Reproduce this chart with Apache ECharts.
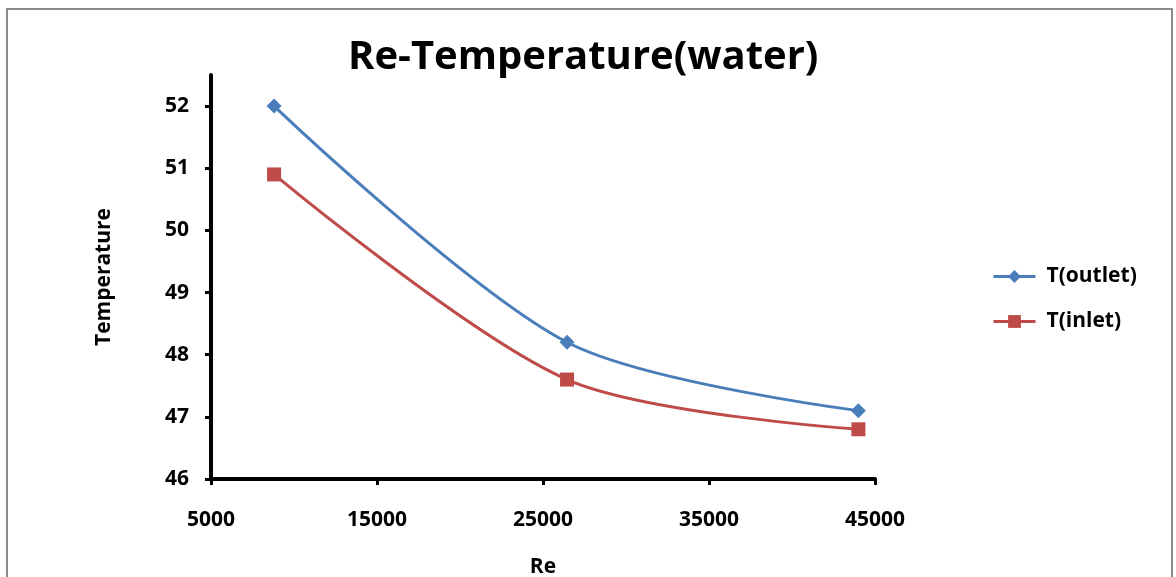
<!DOCTYPE html>
<html>
<head>
<meta charset="utf-8">
<script src="https://cdn.jsdelivr.net/npm/echarts@6/dist/echarts.min.js"></script>
<style>
  html, body { margin: 0; padding: 0; background: #fff; }
  #chart { width: 1176px; height: 577px; }
</style>
</head>
<body>
<div id="chart"></div>
<script>
// Reynolds number vs. water temperature
const reValues = [8800, 26450, 44000];
const tOutlet = [52.0, 48.2, 47.1];
const tInlet = [50.9, 47.6, 46.8];
const yTicks = [46, 47, 48, 49, 50, 51, 52];
const xTicks = [5000, 15000, 25000, 35000, 45000];
const seriesNames = ['T(outlet)', 'T(inlet)'];

const font = '"Open Sans", Lato, sans-serif';

const chart = echarts.init(document.getElementById('chart'));
chart.setOption({
  backgroundColor: '#fff',
  animation: false,
  title: {
    text: 'Re-Temperature(water)',
    left: 343,
    top: 33,
    textStyle: { fontFamily: font, fontSize: 40, fontWeight: 'bold', color: '#000' }
  },
  graphic: [{
    type: 'rect',
    shape: { x: 7, y: 9, width: 1165, height: 580 },
    style: { fill: 'none', stroke: '#8c8c8c', lineWidth: 2 },
    silent: true
  }],
  legend: {
    orient: 'vertical',
    left: 987,
    top: 261,
    itemWidth: 42,
    itemHeight: 16,
    itemGap: 24,
    lineStyle: { width: 3 },
    textStyle: { fontFamily: font, fontSize: 21, fontWeight: 'bold', color: '#000', padding: [0, 0, 0, 6] },
    data: seriesNames
  },
  grid: { left: 211, right: 301, top: 75, bottom: 98, containLabel: false, outerBoundsMode: 'none' },
  xAxis: {
    type: 'value',
    min: 5000,
    max: 45000,
    interval: 10000,
    name: 'Re',
    nameLocation: 'middle',
    nameGap: 78,
    nameTextStyle: { fontFamily: font, fontSize: 21, fontWeight: 'bold', color: '#000' },
    axisLine: { lineStyle: { color: '#000', width: 4 } },
    axisTick: { show: true, length: 6, lineStyle: { color: '#000', width: 3 }, customValues: xTicks },
    axisLabel: {
      margin: 31, fontFamily: font, fontSize: 21, fontWeight: 'bold', color: '#000',
      customValues: xTicks, formatter: v => String(v)
    },
    splitLine: { show: false }
  },
  yAxis: {
    type: 'value',
    min: 46,
    max: 52.5,
    interval: 1,
    name: 'Temperature',
    nameLocation: 'middle',
    nameGap: 96,
    nameTextStyle: { fontFamily: font, fontSize: 21, fontWeight: 'bold', color: '#000' },
    axisLine: { show: true, lineStyle: { color: '#000', width: 4 } },
    axisTick: { show: true, length: 6, lineStyle: { color: '#000', width: 3 }, customValues: yTicks },
    axisLabel: {
      margin: 22, fontFamily: font, fontSize: 21, fontWeight: 'bold', color: '#000',
      customValues: yTicks
    },
    splitLine: { show: false }
  },
  series: [
    {
      name: seriesNames[0],
      type: 'line',
      smooth: 0.3,
      data: reValues.map((x, i) => [x, tOutlet[i]]),
      symbol: 'diamond',
      symbolSize: 15,
      lineStyle: { color: '#4a7ebb', width: 3 },
      itemStyle: { color: '#4a7ebb' }
    },
    {
      name: seriesNames[1],
      type: 'line',
      smooth: 0.3,
      data: reValues.map((x, i) => [x, tInlet[i]]),
      symbol: 'rect',
      symbolSize: 14,
      lineStyle: { color: '#be4b48', width: 3 },
      itemStyle: { color: '#be4b48' }
    }
  ]
});
</script>
</body>
</html>
